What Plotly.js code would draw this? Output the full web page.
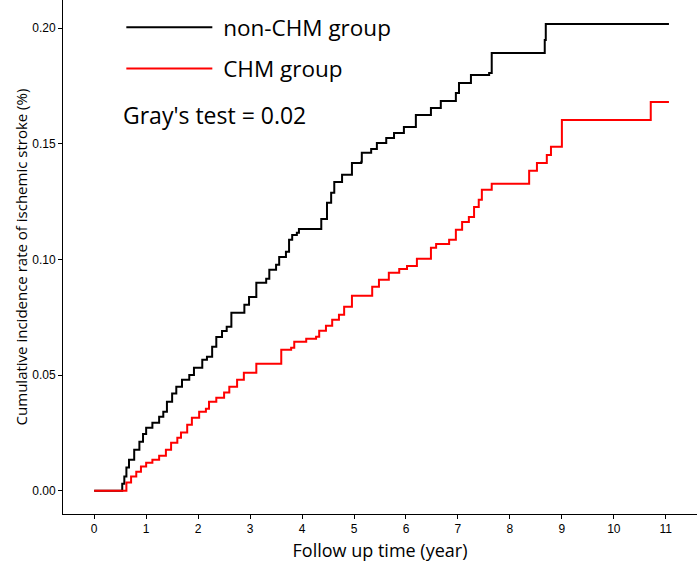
<!DOCTYPE html>
<html>
<head>
<meta charset="utf-8">
<script src="https://cdn.plot.ly/plotly-3.0.1.min.js"></script>
<style>
  body { margin: 0; background: #fff; }
  #chart { width: 699px; height: 562px; }
</style>
</head>
<body>
<div id="chart"></div>
<script>
// step points (time in years, cumulative incidence)
var nonChmTime = [0, 0.50, 0.54, 0.58, 0.62, 0.67, 0.77, 0.87, 0.94, 1.00, 1.12, 1.25, 1.33, 1.40,
    1.50, 1.58, 1.69, 1.83, 1.92, 2.08, 2.17, 2.27, 2.35, 2.46, 2.55, 2.64, 2.83, 2.89, 2.98,
    3.12, 3.31, 3.37, 3.50, 3.56, 3.69, 3.75, 3.81, 3.90, 3.94, 4.29, 4.37, 4.48, 4.56, 4.62,
    4.75, 4.77, 4.94, 4.96, 5.14, 5.15, 5.33, 5.44, 5.62, 5.77, 5.96, 6.19, 6.48, 6.67, 6.96,
    7.02, 7.25, 7.60, 7.65, 8.37, 8.67, 8.69, 11.06];
var nonChmRate = [0, 0, 0.0030, 0.0061, 0.0100, 0.0134, 0.0177, 0.0212, 0.0245, 0.0272, 0.0294,
    0.0320, 0.0341, 0.0385, 0.0420, 0.0449, 0.0480, 0.0500, 0.0532, 0.0566, 0.0579, 0.0622,
    0.0665, 0.0690, 0.0709, 0.0769, 0.0769, 0.0804, 0.0838, 0.0899, 0.0916, 0.0955, 0.0977,
    0.1011, 0.1033, 0.1085, 0.1106, 0.1115, 0.1132, 0.1132, 0.1175, 0.1245, 0.1288, 0.1335,
    0.1335, 0.1366, 0.1366, 0.1417, 0.1422, 0.1461, 0.1478, 0.1504, 0.1525, 0.1547, 0.1573,
    0.1625, 0.1655, 0.1685, 0.1720, 0.1763, 0.1798, 0.1806, 0.1893, 0.1893, 0.1949, 0.2018,
    0.2018];

var chmTime = [0, 0.52, 0.62, 0.71, 0.81, 0.90, 1.00, 1.12, 1.25, 1.38, 1.48, 1.60, 1.67, 1.79,
    1.88, 2.02, 2.15, 2.21, 2.35, 2.50, 2.60, 2.75, 2.88, 3.12, 3.40, 3.60, 3.79, 3.85, 4.08,
    4.27, 4.33, 4.46, 4.58, 4.71, 4.81, 4.96, 5.29, 5.35, 5.48, 5.67, 5.87, 6.02, 6.21, 6.48,
    6.58, 6.83, 6.96, 7.08, 7.21, 7.31, 7.40, 7.46, 7.65, 8.31, 8.37, 8.52, 8.71, 8.79, 9.00,
    10.71, 11.06];
var chmRate = [0, 0, 0.0035, 0.0061, 0.0082, 0.0104, 0.0121, 0.0134, 0.0151, 0.0177, 0.0207,
    0.0229, 0.0251, 0.0285, 0.0315, 0.0341, 0.0354, 0.0385, 0.0402, 0.0424, 0.0449, 0.0480,
    0.0510, 0.0549, 0.0549, 0.0609, 0.0618, 0.0644, 0.0657, 0.0666, 0.0691, 0.0713, 0.0739,
    0.0761, 0.0795, 0.0843, 0.0843, 0.0882, 0.0912, 0.0942, 0.0959, 0.0972, 0.1003, 0.1050,
    0.1067, 0.1085, 0.1128, 0.1162, 0.1184, 0.1227, 0.1258, 0.1301, 0.1327, 0.1327, 0.1383,
    0.1417, 0.1452, 0.1487, 0.1603, 0.1681, 0.1681];

var xTicks = [0, 1, 2, 3, 4, 5, 6, 7, 8, 9, 10, 11];
var yTicks = [0, 0.05, 0.10, 0.15, 0.20];

var nonChm = {
    x: nonChmTime,
    y: nonChmRate,
    type: 'scatter',
    mode: 'lines',
    name: '\u00a0non-CHM group',
    legendgroup: 'a',
    line: { color: '#000000', width: 2, shape: 'hv' }
};

var chm = {
    x: chmTime,
    y: chmRate,
    type: 'scatter',
    mode: 'lines',
    name: '\u00a0CHM group',
    legendgroup: 'b',
    line: { color: '#ff0000', width: 2, shape: 'hv' }
};

var layout = {
    width: 699,
    height: 562,
    margin: { l: 63, r: 2, t: 0, b: 48 },
    paper_bgcolor: '#ffffff',
    plot_bgcolor: '#ffffff',
    font: { family: 'Liberation Sans, Arial, sans-serif', color: '#000' },
    showlegend: true,
    legend: {
        x: 0.092, y: 0.988, xanchor: 'left', yanchor: 'top',
        itemwidth: 86,
        traceorder: 'grouped',
        tracegroupgap: 9,
        bgcolor: 'rgba(0,0,0,0)',
        font: { family: 'Open Sans, sans-serif', size: 22.5, color: '#000' }
    },
    xaxis: {
        range: [-0.6, 11.6],
        tickvals: xTicks,
        ticks: 'outside', ticklen: 4, tickcolor: '#000',
        showline: true, linecolor: '#000', linewidth: 1,
        showgrid: false, zeroline: false,
        tickfont: { size: 12, color: '#000' },
        title: { text: 'Follow up time (year)', standoff: 8,
                 font: { family: 'Open Sans, sans-serif', size: 18, color: '#000' } }
    },
    yaxis: {
        range: [-0.0101, 0.2122],
        tickvals: yTicks,
        tickformat: '.2f',
        ticks: 'outside', ticklen: 4, tickcolor: '#000',
        showline: true, linecolor: '#000', linewidth: 1,
        showgrid: false, zeroline: false,
        tickfont: { size: 12, color: '#000' },
        title: { text: 'Cumulative incidence rate of ischemic stroke (%)', standoff: 0,
                 font: { family: 'Open Sans, sans-serif', size: 15, color: '#000' } }
    },
    annotations: [{
        xref: 'paper', yref: 'paper',
        x: 0.092, y: 0.776, xanchor: 'left', yanchor: 'middle',
        text: "Gray's test = 0.02",
        showarrow: false,
        font: { family: 'Open Sans, sans-serif', size: 23, color: '#000' }
    }]
};

Plotly.newPlot('chart', [nonChm, chm], layout, { displayModeBar: false });
</script>
</body>
</html>
